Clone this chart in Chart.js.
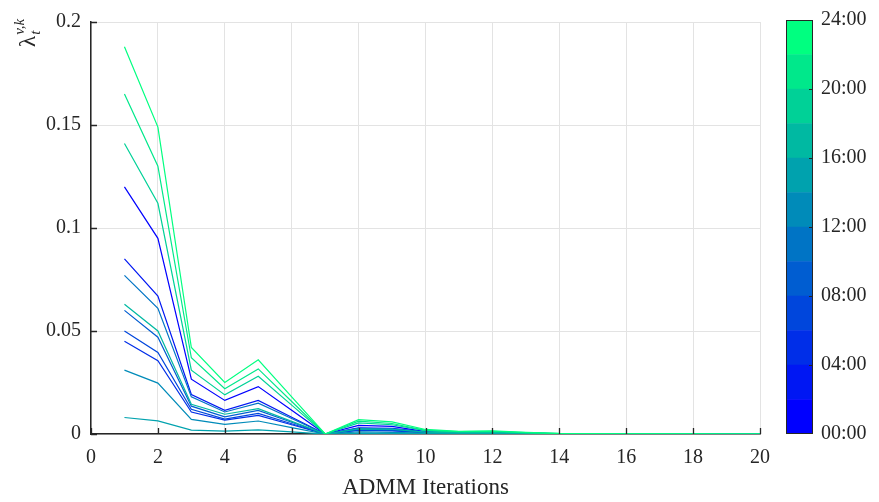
<!DOCTYPE html>
<html>
<head>
<meta charset="utf-8">
<script src="https://cdn.jsdelivr.net/npm/chart.js@4"></script>
<style>
  html, body { margin: 0; padding: 0; background: #fff; }
  #wrap { position: relative; width: 879px; height: 502px; }
  #wrap canvas { position: absolute; left: 0; top: 0; }
</style>
</head>
<body>
<div id="wrap">
  <canvas id="main" width="879" height="502"></canvas>
  <canvas id="cbar" width="879" height="502"></canvas>
</div>
<script>
// ── data ─────────────────────────────────────────────
const iterations = [1, 2, 3, 4, 5, 6, 7, 8, 9, 10, 11, 12, 13, 14, 15, 16, 17, 18, 19, 20];

// one series per 2-hour slot (colour level 0 = 00:00 … 11 = 22:00)
const slot00 = [0.120, 0.095, 0.0266, 0.0163, 0.023, 0.0115, 0, 0.0042, 0.0037, 0.0012, 0.0008, 0.0009, 0.0005, 0.0001, 0.0001, 0, 0, 0, 0, 0];
const slot02 = [0.085, 0.067, 0.0192, 0.0115, 0.0163, 0.0081, 0, 0.0030, 0.0028, 0.0010, 0.0006, 0.0007, 0.0004, 0.0001, 0.0001, 0, 0, 0, 0, 0];
const slot04 = [0.045, 0.0356, 0.0107, 0.0067, 0.0090, 0.0045, 0, 0.0018, 0.0015, 0.0006, 0.0004, 0.0004, 0.0002, 0.0001, 0, 0, 0, 0, 0, 0];
const slot06 = [0.050, 0.0396, 0.0120, 0.0072, 0.0100, 0.0050, 0, 0.0020, 0.0018, 0.0007, 0.0004, 0.0005, 0.0003, 0.0001, 0, 0, 0, 0, 0, 0];
const slot08 = [0.060, 0.047, 0.0135, 0.0083, 0.0115, 0.0057, 0, 0.0022, 0.0020, 0.0008, 0.0005, 0.0005, 0.0003, 0.0001, 0, 0, 0, 0, 0, 0];
const slot10 = [0.077, 0.061, 0.0180, 0.0107, 0.0150, 0.0075, 0, 0.0027, 0.0025, 0.0009, 0.0006, 0.0006, 0.0003, 0.0001, 0.0001, 0, 0, 0, 0, 0];
const slot12 = [0.031, 0.0247, 0.0071, 0.0047, 0.0063, 0.0031, 0, 0.0010, 0.0008, 0.0004, 0.0002, 0.0003, 0.0001, 0, 0, 0, 0, 0, 0, 0];
const slot14 = [0.008, 0.0064, 0.0019, 0.0014, 0.0020, 0.0010, 0, 0.0003, 0.0003, 0.0002, 0.0001, 0.0001, 0.0001, 0, 0, 0, 0, 0, 0, 0];
const slot16 = [0.063, 0.050, 0.0144, 0.0096, 0.0123, 0.0061, 0, 0.0025, 0.0023, 0.0009, 0.0005, 0.0006, 0.0003, 0.0001, 0.0001, 0, 0, 0, 0, 0];
const slot18 = [0.141, 0.112, 0.031, 0.019, 0.028, 0.014, 0, 0.0054, 0.0045, 0.0016, 0.0010, 0.0011, 0.0006, 0.0002, 0.0001, 0.0001, 0, 0, 0, 0];
const slot20 = [0.165, 0.130, 0.037, 0.022, 0.0316, 0.0158, 0, 0.0062, 0.0051, 0.0018, 0.0012, 0.0013, 0.0007, 0.0002, 0.0001, 0.0001, 0.0001, 0, 0, 0];
const slot22 = [0.188, 0.149, 0.042, 0.025, 0.036, 0.018, 0, 0.0070, 0.0059, 0.0022, 0.0013, 0.0015, 0.0008, 0.0003, 0.0002, 0.0001, 0.0001, 0.0001, 0, 0];

const SERIES = [slot00, slot02, slot04, slot06, slot08, slot10, slot12, slot14, slot16, slot18, slot20, slot22];

const hourEdges = [0, 2, 4, 6, 8, 10, 12, 14, 16, 18, 20, 22, 24];
const xTicks = [0, 2, 4, 6, 8, 10, 12, 14, 16, 18, 20];
const yTicks = [0, 0.05, 0.1, 0.15, 0.2];
const hourTicks = [0, 4, 8, 12, 16, 20, 24];

// ── style ────────────────────────────────────────────
const SERIF = '"Liberation Serif", "Times New Roman", serif';
const INK = '#262626';
const GRID = '#e3e3e3';

// MATLAB "winter" colormap, 12 levels
const winter = i => {
  const g = i / 11;
  return `rgb(0,${Math.round(255 * g)},${Math.round(255 * (1 - g / 2))})`;
};

// inward tick marks like MATLAB
const innerTicks = {
  id: 'innerTicks',
  afterDraw(chart) {
    const { ctx, chartArea: a, scales: { x, y } } = chart;
    ctx.save();
    ctx.strokeStyle = INK;
    ctx.lineWidth = 1.3;
    ctx.beginPath();
    xTicks.forEach(v => { const px = Math.round(x.getPixelForValue(v)) + 0.5; ctx.moveTo(px, a.bottom); ctx.lineTo(px, a.bottom - 6); });
    yTicks.forEach(v => { const py = Math.round(y.getPixelForValue(v)) + 0.5; ctx.moveTo(a.left, py); ctx.lineTo(a.left + 6, py); });
    ctx.stroke();
    ctx.restore();
  }
};

// λ_t^{v,k} rotated y label
const yLabel = {
  id: 'yLabel',
  afterDraw(chart) {
    const c = chart.ctx;
    c.save();
    c.translate(35, 47);
    c.rotate(-Math.PI / 2);
    c.fillStyle = INK;
    c.textBaseline = 'alphabetic';
    c.font = `23px ${SERIF}`;
    c.fillText('λ', 0, 0);
    const w = c.measureText('λ').width;
    c.font = `italic 15px ${SERIF}`;
    c.fillText('t', w + 1, 5);
    c.fillText('v,k', w + 1, -11);
    c.restore();
  }
};

new Chart(document.getElementById('main'), {
  type: 'line',
  data: {
    datasets: SERIES.map((s, i) => ({
      label: `${String(hourEdges[i]).padStart(2, '0')}:00`,
      data: iterations.map((it, j) => ({ x: it, y: s[j] })),
      borderColor: winter(i),
      borderWidth: 1.2,
      pointRadius: 0,
      tension: 0,
      fill: false,
      order: 11 - i
    }))
  },
  options: {
    responsive: false,
    animation: false,
    layout: { padding: { left: 0, top: 17, right: 119, bottom: 0 } },
    plugins: { legend: { display: false }, tooltip: { enabled: false } },
    scales: {
      x: {
        type: 'linear', min: 0, max: 20,
        ticks: { stepSize: 2, color: INK, font: { family: SERIF, size: 20 }, padding: 12, maxRotation: 0 },
        grid: { color: GRID, drawTicks: false },
        border: { color: INK, width: 1.5 },
        title: { display: true, text: 'ADMM Iterations', color: INK, font: { family: SERIF, size: 23 }, padding: { top: 0, bottom: 0 } },
        afterFit: s => { s.height = 68; }
      },
      y: {
        min: 0, max: 0.2,
        ticks: { stepSize: 0.05, color: INK, font: { family: SERIF, size: 20 }, padding: 10, callback: v => String(+(+v).toFixed(2)) },
        grid: { color: GRID, drawTicks: false },
        border: { color: INK, width: 1.5 },
        afterFit: s => { s.width = 91; }
      }
    }
  },
  plugins: [innerTicks, yLabel]
});

// ── colorbar ─────────────────────────────────────────
const barFrame = {
  id: 'barFrame',
  afterDraw(chart) {
    const { ctx, chartArea: a, scales: { y } } = chart;
    ctx.save();
    ctx.strokeStyle = INK;
    ctx.lineWidth = 1;
    ctx.strokeRect(a.left + 0.5, a.top + 0.5, a.right - a.left - 1, a.bottom - a.top - 1);
    ctx.beginPath();
    hourTicks.slice(1, -1).forEach(v => { const py = Math.round(y.getPixelForValue(v)) + 0.5; ctx.moveTo(a.right, py); ctx.lineTo(a.right - 4, py); });
    ctx.stroke();
    ctx.restore();
  }
};

new Chart(document.getElementById('cbar'), {
  type: 'bar',
  data: {
    labels: [''],
    datasets: hourEdges.slice(0, -1).map((h, i) => ({
      data: [[h, hourEdges[i + 1]]],
      backgroundColor: winter(i),
      borderWidth: 0,
      barPercentage: 1,
      categoryPercentage: 1,
      grouped: false
    }))
  },
  options: {
    responsive: false,
    animation: false,
    layout: { padding: { left: 786, top: 17, right: 0, bottom: 68 } },
    plugins: { legend: { display: false }, tooltip: { enabled: false } },
    scales: {
      x: { display: false },
      y: {
        position: 'right', min: 0, max: 24,
        ticks: { stepSize: 4, color: INK, font: { family: SERIF, size: 20 }, padding: 8,
                 callback: v => `${String(v).padStart(2, '0')}:00` },
        grid: { display: false, drawTicks: false },
        border: { display: false },
        afterFit: s => { s.width = 66; }
      }
    }
  },
  plugins: [barFrame]
});
</script>
</body>
</html>
